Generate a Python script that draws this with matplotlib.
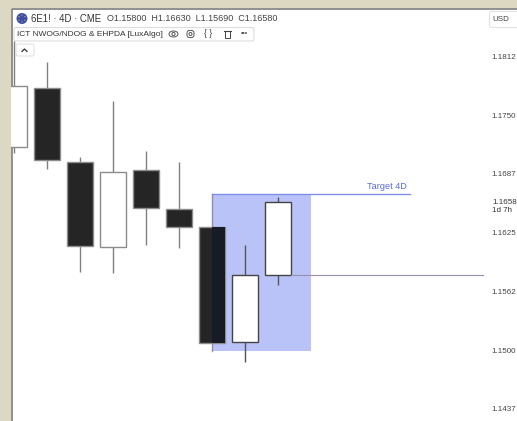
import matplotlib
matplotlib.use('Agg')
import matplotlib.pyplot as plt
from matplotlib.patches import Rectangle, FancyBboxPatch, Circle, Ellipse

plt.rcParams['font.family'] = ['Liberation Sans', 'DejaVu Sans']

#candles
opens = [1.17163, 1.17791, 1.17003, 1.16097, 1.16918, 1.16502, 1.16310, 1.15085, 1.15800]
highs = [1.18292, 1.18068, 1.17056, 1.17653, 1.17120, 1.17003, 1.16310, 1.16119, 1.16630]
lows = [1.17099, 1.16928, 1.15831, 1.15820, 1.16119, 1.16087, 1.15075, 1.14872, 1.15690]
closes = [1.17812, 1.17024, 1.16108, 1.16896, 1.16513, 1.16310, 1.15075, 1.15800, 1.16580]

tick_values = [1.18125, 1.17500, 1.16875, 1.16250, 1.15625, 1.15000, 1.14375]
tick_labels = ['1.1812', '1.1750', '1.1687', '1.1625', '1.1562', '1.1500', '1.1437']

box_left, box_right = 6, 9
box_top, box_bottom = 1.16662, 1.14989
target_end = 12
last_open = 1.15800
last_open_end = 14.2

W, H = 517, 421
beige = '#DDD8C2'
dark = '#252525'
edge = '#8C8C8C'
blue = '#B9C3F8'

fig = plt.figure(figsize=(W / 100, H / 100), dpi=100)
fig.patch.set_facecolor(beige)

#white pane, whole picture in pixels
bg = fig.add_axes([0, 0, 1, 1])
bg.set_xlim(0, W)
bg.set_ylim(H, 0)
bg.axis('off')
bg.add_patch(Rectangle((11, 8), W - 11, H - 8, facecolor='white', edgecolor='none'))
bg.plot([11.5, 11.5, W], [H, 8.5, 8.5], color='#7D7D7D', lw=1.2, solid_capstyle='butt')

#price pane, x in bars, y in price
left, right, top, bottom = 11, 489, 9, 421
ax = fig.add_axes([left / W, 1 - bottom / H, (right - left) / W, (bottom - top) / H])
ax.patch.set_alpha(0)
ax.set_xlim((left - 14) / 33, (right - 14) / 33)
ax.set_ylim(1.15 + (350 - bottom) * 0.00010653, 1.15 + (350 - top) * 0.00010653)
for s in ax.spines.values():
    s.set_visible(False)
ax.set_xticks([])
ax.yaxis.tick_right()
ax.set_yticks(tick_values)
ax.set_yticklabels(tick_labels, fontsize=5.8, color='#444444')
ax.tick_params(axis='y', length=0, pad=2)

#target box goes under the candles
ax.add_patch(Rectangle((box_left, box_bottom), box_right - box_left, box_top - box_bottom,
                       facecolor=blue, edgecolor='none', zorder=1))
ax.plot([box_left, box_left], [box_bottom, box_top], color='#8A8FB5', lw=1, zorder=2)
ax.plot([box_left, target_end], [box_top, box_top], color='#7F8FE8', lw=1, zorder=2)
ax.text(target_end - 0.7, box_top + 0.00035, 'Target 4D', fontsize=6.6, color='#5A6BD8',
        ha='center', va='bottom')

for i in range(len(opens)):
    up = closes[i] >= opens[i]
    late = i >= 7
    ax.plot([i, i], [lows[i], highs[i]], color='#555555' if late else '#808080', lw=1, zorder=2,
            solid_capstyle='butt')
    if up:
        line = '#444444' if late else edge
    else:
        line = edge
    ax.add_patch(Rectangle((i - 0.38, min(opens[i], closes[i])), 0.76, abs(closes[i] - opens[i]),
                           facecolor='white' if up else dark, edgecolor=line, lw=1, zorder=3))

#right half of the big candle is inside the box, so it looks bluer
ax.add_patch(Rectangle((box_left, closes[6]), 0.38, opens[6] - closes[6],
                       facecolor='#171B26', edgecolor='none', zorder=4))

ax.plot([8.38, last_open_end], [last_open, last_open], color='#9A8FB0', lw=0.8, zorder=3)

#header and chrome on top
fg = fig.add_axes([0, 0, 1, 1])
fg.set_xlim(0, W)
fg.set_ylim(H, 0)
fg.axis('off')
fg.patch.set_alpha(0)

fg.add_patch(Circle((22, 18.5), 5.5, facecolor='#3B4FA8', edgecolor='none'))
for dx, dy in [(0, -3.5), (3, -1.8), (3, 1.8), (0, 3.5), (-3, 1.8), (-3, -1.8)]:
    fg.add_patch(Circle((22 + dx, 18.5 + dy), 0.6, facecolor='#D9C24A', edgecolor='none'))

fg.text(31, 18.5, '6E1! · 4D · CME', fontsize=6.9, color='#333333', va='center')
fg.text(107, 18.5, 'O1.15800  H1.16630  L1.15690  C1.16580', fontsize=6.5, color='#444444', va='center')

fg.add_patch(FancyBboxPatch((14, 27.5), 240, 13.5, boxstyle='round,pad=0,rounding_size=2',
                            facecolor='white', edgecolor='#DDDDDD', lw=0.8))
fg.text(17, 34.5, 'ICT NWOG/NDOG & EHPDA [LuxAlgo]', fontsize=6.05, color='#333333', va='center')

#little icons in the legend row
fg.add_patch(Ellipse((173.5, 34), 9, 6, facecolor='none', edgecolor='#555555', lw=0.7))
fg.add_patch(Circle((173.5, 34), 1.6, facecolor='none', edgecolor='#555555', lw=0.7))
fg.add_patch(FancyBboxPatch((187, 30.5), 7, 7, boxstyle='round,pad=0,rounding_size=2.5',
                            facecolor='none', edgecolor='#555555', lw=0.7))
fg.add_patch(Circle((190.5, 34), 1.5, facecolor='none', edgecolor='#555555', lw=0.7))
fg.text(208, 33.5, '{ }', fontsize=6.2, color='#444444', ha='center', va='center')
fg.add_patch(Rectangle((224.5, 31), 5, 6.5, facecolor='none', edgecolor='#444444', lw=0.7))
fg.plot([223.5, 230.5], [31, 31], color='#444444', lw=0.8)
fg.text(244.5, 33.5, '•••', fontsize=5, color='#555555', ha='center', va='center')

fg.add_patch(FancyBboxPatch((16, 44), 18, 12, boxstyle='round,pad=0,rounding_size=2',
                            facecolor='white', edgecolor='#E2E2E2', lw=0.8))
fg.plot([22, 24.5, 27], [51.5, 49, 51.5], color='#333333', lw=0.9)

fg.add_patch(FancyBboxPatch((489.5, 11.5), 40, 16, boxstyle='round,pad=0,rounding_size=2',
                            facecolor='white', edgecolor='#E2E2E2', lw=0.8))
fg.text(492, 19.5, 'USD', fontsize=5.8, color='#444444', va='center')

fg.text(492, 202, '1.1658', fontsize=5.8, color='#333333', va='center')
fg.text(492, 211, '1d 7h', fontsize=5.8, color='#333333', va='center')

fig.savefig('out.png', dpi=100, facecolor=fig.get_facecolor())
